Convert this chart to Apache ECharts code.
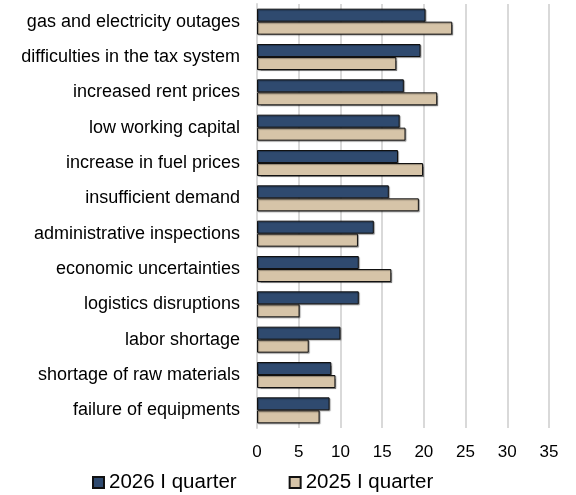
<!DOCTYPE html>
<html>
<head>
<meta charset="utf-8">
<script src="https://cdn.jsdelivr.net/npm/echarts@6/dist/echarts.min.js"></script>
<style>
  html, body { margin: 0; padding: 0; background: #fff; }
  #chart { width: 576px; height: 495px; }
</style>
</head>
<body>
<div id="chart"></div>
<script>
var categories = [
  "gas and electricity outages",
  "difficulties in the tax system",
  "increased rent prices",
  "low working capital",
  "increase in fuel prices",
  "insufficient demand",
  "administrative inspections",
  "economic uncertainties",
  "logistics disruptions",
  "labor shortage",
  "shortage of raw materials",
  "failure of equipments"
];
var q2026 = [20.2, 19.6, 17.6, 17.1, 16.9, 15.8, 14.0, 12.2, 12.2, 10.0, 8.9, 8.7];
var q2025 = [23.4, 16.7, 21.6, 17.8, 19.9, 19.4, 12.1, 16.1, 5.1, 6.2, 9.4, 7.5];
var xTicks = [0, 5, 10, 15, 20, 25, 30, 35];

var myChart = echarts.init(document.getElementById("chart"));
var font = "Liberation Sans, Arial, sans-serif";
var option = {
  animation: false,
  textStyle: { fontFamily: font },
  grid: {
    left: 257,
    right: 27,
    top: 4,
    bottom: 67
  },
  legend: {
    top: 467,
    left: 87,
    itemWidth: 11,
    itemHeight: 11,
    itemGap: 52,
    icon: "rect",
    textStyle: { fontSize: 20.5, color: "#000", fontFamily: font },
    data: ["2026 I quarter", "2025 I quarter"]
  },
  xAxis: {
    type: "value",
    min: xTicks[0],
    max: xTicks[xTicks.length - 1],
    interval: 5,
    axisLine: { show: false },
    axisTick: { show: false },
    axisLabel: { fontSize: 17, color: "#000", margin: 16 },
    splitLine: { lineStyle: { color: "#d9d9d9", width: 2 } }
  },
  yAxis: {
    type: "category",
    inverse: true,
    data: categories,
    axisLine: { lineStyle: { color: "#d9d9d9", width: 2 } },
    axisTick: { show: false },
    axisLabel: { fontSize: 18, color: "#000", margin: 17 }
  },
  series: [
    {
      name: "2026 I quarter",
      type: "bar",
      data: q2026,
      barWidth: 13,
      barGap: "0%",
      itemStyle: {
        color: "#2f4a6f", borderColor: "#111", borderWidth: 1,
        shadowColor: "rgba(0,0,0,0.35)", shadowOffsetX: 1, shadowOffsetY: 1, shadowBlur: 1
      }
    },
    {
      name: "2025 I quarter",
      type: "bar",
      data: q2025,
      barWidth: 13,
      itemStyle: {
        color: "#d6c4a8", borderColor: "#111", borderWidth: 1,
        shadowColor: "rgba(0,0,0,0.35)", shadowOffsetX: 1, shadowOffsetY: 1, shadowBlur: 1
      }
    }
  ]
};
myChart.setOption(option);
window.addEventListener("resize", function () {
  myChart.resize();
});
</script>
</body>
</html>
